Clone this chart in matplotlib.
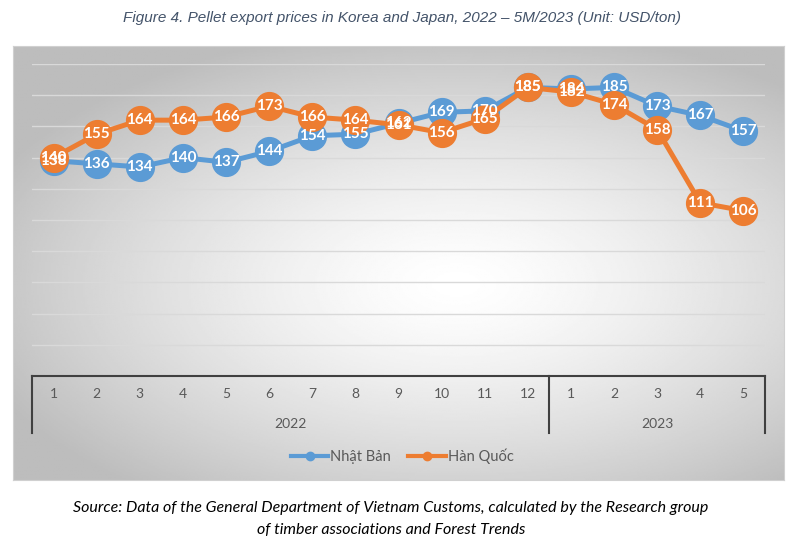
import numpy as np
import matplotlib.pyplot as plt

# ---------- data ----------
months = ['1', '2', '3', '4', '5', '6', '7', '8', '9', '10', '11', '12',
          '1', '2', '3', '4', '5']
years = ['2022', '2023']
year_sizes = [12, 5]
nhat_ban = [138, 136, 134, 140, 137, 144, 154, 155, 162, 169, 170, 185,
            184, 185, 173, 167, 157]
han_quoc = [140, 155, 164, 164, 166, 173, 166, 164, 161, 156, 165, 185,
            182, 174, 158, 111, 106]

BLUE = '#5B9BD5'
ORANGE = '#ED7D31'
GRAY_TXT = '#595959'
FONT = ['Lato', 'DejaVu Sans']

W, H = 807, 552
fig = plt.figure(figsize=(W / 100, H / 100), dpi=100)
fig.patch.set_facecolor('white')


def fx(px):
    return px / W


def fy(py):
    return 1 - py / H


# ---------- chart area with radial gradient ----------
cx0, cy0, cx1, cy1 = 13, 46, 784, 480
bg = fig.add_axes([fx(cx0), fy(cy1), fx(cx1 - cx0), (cy1 - cy0) / H])
gx, gy = np.meshgrid(np.linspace(-1, 1, 400), np.linspace(-1, 1, 300))
r = np.sqrt(((gx - 0.15) / 1.1) ** 2 + ((gy + 0.1) / 1.0) ** 2)
r = np.clip(r / 1.2, 0, 1)
shade = 1.0 - 0.26 * r ** 1.4
bg.imshow(shade, cmap='gray', vmin=0, vmax=1, aspect='auto',
          extent=[0, 1, 0, 1], origin='lower')
bg.set_xlim(0, 1)
bg.set_ylim(0, 1)
for s in bg.spines.values():
    s.set_color('#d0d0d0')
    s.set_linewidth(0.8)
bg.set_xticks([])
bg.set_yticks([])

# ---------- plot area ----------
n = len(months)
x = np.arange(n)
px_left, px_right, px_top, px_bot = 32, 765, 64, 376
ax = fig.add_axes([fx(px_left), fy(px_bot), fx(px_right - px_left),
                   (px_bot - px_top) / H])
ax.set_facecolor('none')
ax.set_xlim(-0.5, n - 0.5)
ax.set_ylim(0, 200)
for yv in range(20, 201, 20):
    ax.axhline(yv, color='#d9d9d9', lw=1.0, zorder=1)
for s in ax.spines.values():
    s.set_visible(False)
ax.set_xticks([])
ax.set_yticks([])

ax.plot(x, nhat_ban, color=BLUE, lw=3.6, marker='o', ms=20,
        solid_capstyle='round', zorder=3, label='Nhật Bản')
ax.plot(x, han_quoc, color=ORANGE, lw=3.6, marker='o', ms=20,
        solid_capstyle='round', zorder=4, label='Hàn Quốc')

for xi, v in zip(x, nhat_ban):
    ax.text(xi, v, str(v), color='white', fontsize=11, fontweight='bold',
            ha='center', va='center', family=FONT, zorder=6)
for xi, v in zip(x, han_quoc):
    ax.text(xi, v, str(v), color='white', fontsize=11, fontweight='bold',
            ha='center', va='center', family=FONT, zorder=6)

# ---------- multi-level category axis ----------
ax.plot([-0.5, n - 0.5], [0, 0], color='#404040', lw=1.5, clip_on=False,
        transform=ax.transData)
trans = ax.get_xaxis_transform()
depth = (433 - px_bot) / (px_bot - px_top)
edge = -0.5
bounds = [edge]
for sz in year_sizes:
    edge += sz
    bounds.append(edge)
for b in bounds:
    ax.plot([b, b], [0, -depth], color='#404040', lw=1.5, clip_on=False,
            transform=trans)
month_y = -(394 - px_bot) / (px_bot - px_top)
year_y = -(424 - px_bot) / (px_bot - px_top)
for xi, m in zip(x, months):
    ax.text(xi, month_y, m, color=GRAY_TXT, fontsize=10, ha='center',
            va='center', family=FONT, transform=trans)
for i, yr in enumerate(years):
    ax.text((bounds[i] + bounds[i + 1]) / 2, year_y, yr, color=GRAY_TXT,
            fontsize=10, ha='center', va='center', family=FONT,
            transform=trans)

# ---------- legend ----------
h1, = ax.plot([], [], color=BLUE, lw=3, marker='o', ms=6)
h2, = ax.plot([], [], color=ORANGE, lw=3, marker='o', ms=6)
leg = fig.legend([h1, h2], ['Nhật Bản', 'Hàn Quốc'], loc='center',
                 bbox_to_anchor=(fx(402), fy(456)), ncol=2, frameon=False,
                 handlelength=2.6, handletextpad=0.1, columnspacing=1.2,
                 prop={'family': FONT, 'size': 10.5})
for t in leg.get_texts():
    t.set_color(GRAY_TXT)

# ---------- title and source ----------
fig.text(fx(402), fy(18), 'Figure 4. Pellet export prices in Korea and Japan, '
         '2022 \u2013 5M/2023 (Unit: USD/ton)', ha='center', va='center',
         fontsize=11, style='italic', color='#44546A',
         family=['Liberation Sans', 'DejaVu Sans'])
fig.text(fx(391), fy(508), 'Source: Data of the General Department of Vietnam '
         'Customs, calculated by the Research group', ha='center', va='center',
         fontsize=11.5, style='italic', color='black', family=FONT)
fig.text(fx(391), fy(530), 'of timber associations and Forest Trends',
         ha='center', va='center', fontsize=11.5, style='italic',
         color='black', family=FONT)

fig.savefig('out.png', dpi=100)
